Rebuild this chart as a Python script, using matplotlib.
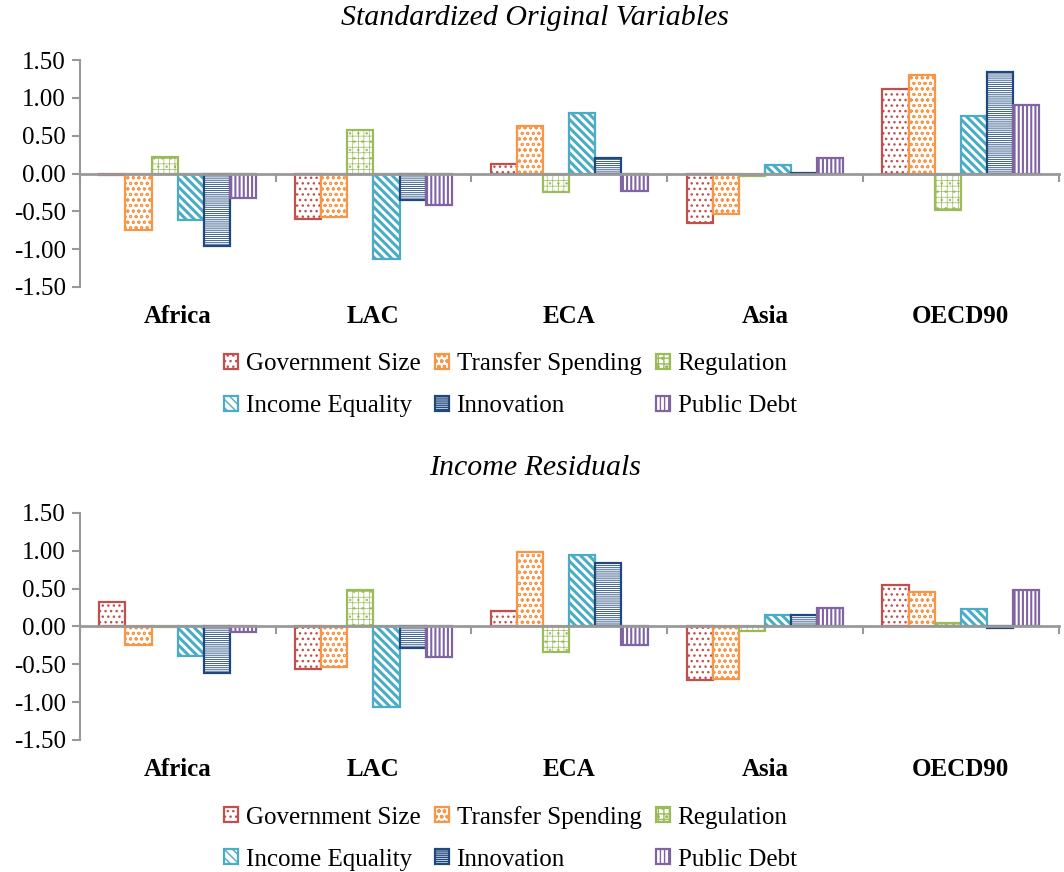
import numpy as np
import matplotlib
matplotlib.use("Agg")
import matplotlib.pyplot as plt

regions = ["Africa", "LAC", "ECA", "Asia", "OECD90"]
series = ["Government Size", "Transfer Spending", "Regulation",
          "Income Equality", "Innovation", "Public Debt"]

# Standardized Original Variables (rows = series, columns = regions)
top_gov = [-0.02, -0.60, 0.12, -0.66, 1.12]
top_transfer = [-0.75, -0.57, 0.63, -0.53, 1.30]
top_regulation = [0.22, 0.57, -0.24, -0.03, -0.48]
top_income_eq = [-0.62, -1.13, 0.80, 0.11, 0.76]
top_innovation = [-0.96, -0.35, 0.21, 0.01, 1.34]
top_debt = [-0.33, -0.42, -0.23, 0.21, 0.91]

# Income Residuals
bot_gov = [0.33, -0.56, 0.20, -0.71, 0.55]
bot_transfer = [-0.25, -0.53, 0.98, -0.69, 0.46]
bot_regulation = [-0.01, 0.48, -0.34, -0.06, 0.05]
bot_income_eq = [-0.39, -1.06, 0.95, 0.15, 0.23]
bot_innovation = [-0.61, -0.28, 0.84, 0.15, -0.02]
bot_debt = [-0.07, -0.40, -0.25, 0.25, 0.48]

yticks = [-1.5, -1.0, -0.5, 0.0, 0.5, 1.0, 1.5]

colors = ["#c0504d", "#f79646", "#9bbb59", "#4bacc6", "#1f497d", "#8064a2"]
hatches = ["...", "ooo", "+++..", "\\" * 4, "-" * 8, "||||"]
hatch_lw = [1.0, 0.7, 0.5, 2.2, 0.6, 1.5]

plt.rcParams['font.family'] = ['Liberation Serif', 'DejaVu Serif']

fig = plt.figure(figsize=(10.64, 8.72), dpi=100)
ax_top = fig.add_axes([0.075, 0.671, 0.920, 0.260])
ax_bot = fig.add_axes([0.075, 0.1514, 0.920, 0.2603])

def draw(ax, data, title, title_y):
    x = np.arange(len(regions))
    n = len(data)
    w = 0.8 / n
    handles = []
    for i, vals in enumerate(data):
        with plt.rc_context({'hatch.linewidth': hatch_lw[i]}):
            b = ax.bar(x + (i - (n - 1) / 2) * w, vals, width=w,
                       facecolor="white", edgecolor=colors[i],
                       hatch=hatches[i], linewidth=1.6, label=series[i],
                       zorder=3)
        handles.append(b)
    ax.set_xlim(-0.5, len(regions) - 0.5)
    ax.set_ylim(yticks[0], yticks[-1])
    ax.set_yticks(yticks)
    ax.set_yticklabels([f"{v:.2f}" for v in yticks], fontsize=18)
    ax.tick_params(axis='y', length=6, width=1.5, color="#999999",
                   direction='out', pad=4)
    for s in ["top", "right"]:
        ax.spines[s].set_visible(False)
    ax.spines['left'].set_color("#999999")
    ax.spines['left'].set_linewidth(1.5)
    ax.spines['bottom'].set_position(('data', 0))
    ax.spines['bottom'].set_color("#999999")
    ax.spines['bottom'].set_linewidth(2)
    ax.spines['bottom'].set_zorder(4)
    ax.set_xticks(np.arange(len(regions) + 1) - 0.5)
    ax.set_xticklabels([])
    ax.tick_params(axis='x', length=6, width=1.5, color="#999999", direction='out')
    for i, r in enumerate(regions):
        ax.text(i, -0.132, r, transform=ax.get_xaxis_transform(),
                ha='center', va='center', fontsize=18, fontweight='bold')
    fig.text(535 / 1064, title_y, title, fontsize=21.5, style='italic',
             ha='center', va='center')
    order = [0, 3, 1, 4, 2, 5]
    ax.legend([handles[k] for k in order], [series[k] for k in order],
              ncol=3, loc='upper center', bbox_to_anchor=(0.44, -0.245),
              frameon=False, fontsize=18, handlelength=0.55, handleheight=0.55,
              handletextpad=0.3, columnspacing=0.6, labelspacing=0.8,
              borderaxespad=0)

draw(ax_top, [top_gov, top_transfer, top_regulation, top_income_eq,
              top_innovation, top_debt], "Standardized Original Variables",
     1 - 18 / 872)
draw(ax_bot, [bot_gov, bot_transfer, bot_regulation, bot_income_eq,
              bot_innovation, bot_debt], "Income Residuals", 1 - 468 / 872)

fig.savefig("out.png", dpi=100)
